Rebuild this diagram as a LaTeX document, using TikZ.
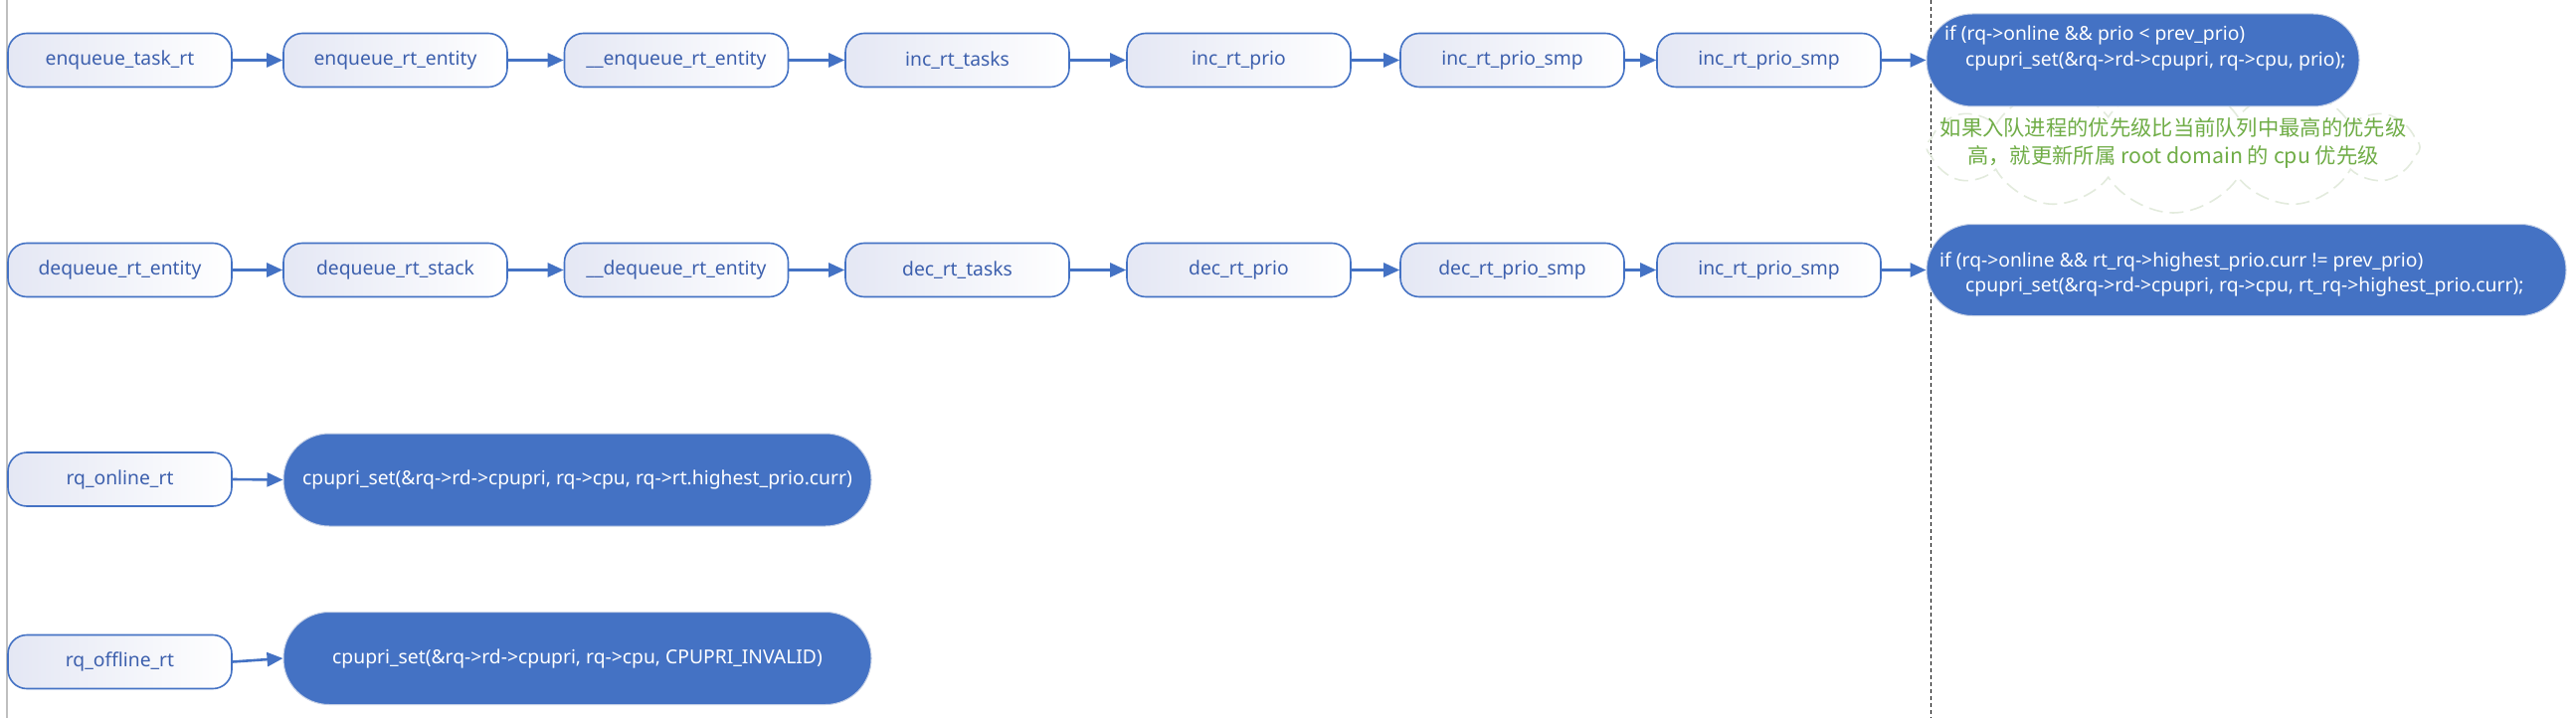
\documentclass[tikz,border=0pt]{standalone}
\usepackage{fontspec}
\setmainfont{Noto Sans}
\newfontfamily\cjk{Noto Sans CJK SC}
\usetikzlibrary{arrows.meta,shapes.symbols}
\definecolor{boxblue}{HTML}{4472C4}
\definecolor{txtblue}{HTML}{3C5FAD}
\definecolor{lav}{HTML}{E4E7F4}
\definecolor{bigblue}{HTML}{4472C4}
\definecolor{bigedge}{HTML}{C5D0E6}
\definecolor{cloudedge}{HTML}{E3EBDD}
\definecolor{green}{HTML}{70AD47}
\tikzset{
  fbox/.style={draw=boxblue, line width=1.6pt, rounded corners=19pt,
    minimum width=225pt, minimum height=54pt, inner sep=0pt,
    left color=lav, right color=white, text=txtblue,
    font=\fontsize{19.3}{22}\selectfont},
  bigbox/.style={draw=bigedge, line width=1pt, fill=bigblue, rounded corners=46pt,
    inner sep=0pt},
  bigtext/.style={text=white, font=\fontsize{19.3}{25}\selectfont, inner sep=0pt, align=left},
  arr/.style={-{Triangle[length=16pt,width=14pt]}, line width=2.6pt, draw=boxblue},
}
\begin{document}
\begin{tikzpicture}[x=1pt,y=-1pt]
\useasboundingbox[fill=white] (0,0) rectangle (2590,722);
% guide lines
\draw[color=gray!50, line width=1.5pt] (7,0) -- (7,722);
\draw[black, line width=1.2pt, dash pattern=on 4pt off 3pt] (1941.5,0) -- (1941.5,722);

% cloud
\node[cloud, cloud puffs=12, cloud puff arc=115, aspect=3.8, draw=cloudedge,
  line width=1.6pt, dash pattern=on 14pt off 7pt,
  minimum width=496pt, minimum height=132pt, inner sep=0pt] (cl) at (2185,148) {};
\node[text=green, font=\cjk\fontsize{21.3}{28}\selectfont, align=center, inner sep=0pt]
  (clt) at (2185,144) {如果入队进程的优先级比当前队列中最高的优先级\\高，就更新所属 root domain 的 cpu 优先级};

% row 1
\node[fbox] (a1) at (120.5,60.5) {enqueue\_task\_rt};
\node[fbox] (a2) at (397.5,60.5) {enqueue\_rt\_entity};
\node[fbox] (a3) at (680,60.5) {\_\_enqueue\_rt\_entity};
\node[fbox] (a4) at (962.5,60.5) {inc\_rt\_tasks};
\node[fbox] (a5) at (1245.5,60.5) {inc\_rt\_prio};
\node[fbox] (a6) at (1520.5,60.5) {inc\_rt\_prio\_smp};
\node[fbox] (a7) at (1778.5,60.5) {inc\_rt\_prio\_smp};
\node[bigbox, minimum width=435pt, minimum height=93pt] (ab) at (2154.5,60.5) {};
\node[bigtext, anchor=base west] (abt1) at (1955,41) {if (rq->online \&\& prio < prev\_prio)};
\node[bigtext, anchor=base west] (abt2) at (1976,66.5) {cpupri\_set(\&rq->rd->cpupri, rq->cpu, prio);};

% row 2
\node[fbox] (b1) at (120.5,271.5) {dequeue\_rt\_entity};
\node[fbox] (b2) at (397.5,271.5) {dequeue\_rt\_stack};
\node[fbox] (b3) at (680,271.5) {\_\_dequeue\_rt\_entity};
\node[fbox] (b4) at (962.5,271.5) {dec\_rt\_tasks};
\node[fbox] (b5) at (1245.5,271.5) {dec\_rt\_prio};
\node[fbox] (b6) at (1520.5,271.5) {dec\_rt\_prio\_smp};
\node[fbox] (b7) at (1778.5,271.5) {inc\_rt\_prio\_smp};
\node[bigbox, minimum width=643pt, minimum height=92pt] (bb) at (2258.5,271.5) {};
\node[bigtext, anchor=base west] (bbt1) at (1950,268) {if (rq->online \&\& rt\_rq->highest\_prio.curr != prev\_prio)};
\node[bigtext, anchor=base west] (bbt2) at (1976,293) {cpupri\_set(\&rq->rd->cpupri, rq->cpu, rt\_rq->highest\_prio.curr);};

% row 3
\node[fbox] (c1) at (120.5,482) {rq\_online\_rt};
\node[bigbox, minimum width=591pt, minimum height=93pt] (cb) at (580.5,482.5) {};
\node[bigtext] (cbt) at (cb.center) {cpupri\_set(\&rq->rd->cpupri, rq->cpu, rq->rt.highest\_prio.curr)};

% row 4
\node[fbox] (d1) at (120.5,665.5) {rq\_offline\_rt};
\node[bigbox, minimum width=591pt, minimum height=93pt] (db) at (580.5,662) {};
\node[bigtext] (dbt) at (db.center) {cpupri\_set(\&rq->rd->cpupri, rq->cpu, CPUPRI\_INVALID)};

% arrows
\foreach \i/\j in {a1/a2,a2/a3,a3/a4,a4/a5,a5/a6,a6/a7,a7/ab,b1/b2,b2/b3,b3/b4,b4/b5,b5/b6,b6/b7,b7/bb,c1/cb,d1/db}
  \draw[arr] (\i.east) -- (\j.west);
\end{tikzpicture}
\end{document}
